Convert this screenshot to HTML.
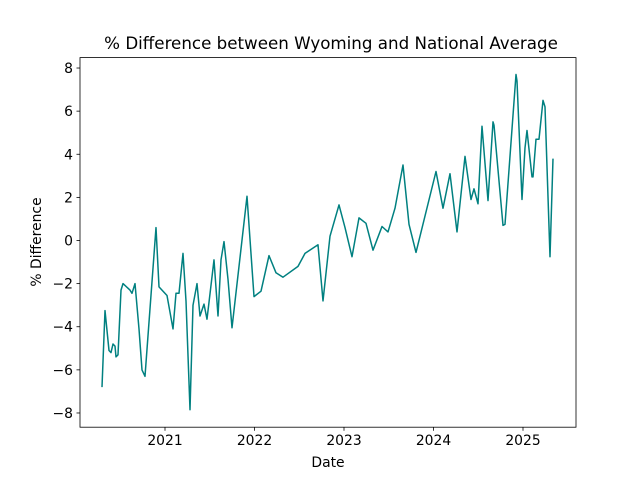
<!DOCTYPE html>
<html><head><meta charset="utf-8"><style>
body{margin:0;background:#fff;font-family:"DejaVu Sans","Liberation Sans",sans-serif}
</style></head><body>
<svg id="chart" width="640" height="480" xmlns="http://www.w3.org/2000/svg" font-family="DejaVu Sans, Liberation Sans, sans-serif"></svg>
<script>
const dates=[2020.296,2020.330,2020.374,2020.397,2020.419,2020.441,2020.453,2020.475,2020.508,2020.531,2020.609,2020.631,2020.665,2020.709,2020.743,2020.777,2020.899,2020.933,2021.022,2021.089,2021.123,2021.156,2021.201,2021.235,2021.279,2021.313,2021.358,2021.391,2021.436,2021.469,2021.547,2021.592,2021.626,2021.659,2021.704,2021.749,2021.916,2021.994,2022.073,2022.162,2022.240,2022.318,2022.486,2022.564,2022.709,2022.765,2022.844,2022.944,2023.011,2023.089,2023.168,2023.246,2023.324,2023.425,2023.492,2023.570,2023.659,2023.726,2023.804,2024.028,2024.106,2024.184,2024.263,2024.352,2024.419,2024.453,2024.497,2024.542,2024.609,2024.665,2024.676,2024.777,2024.799,2024.922,2024.933,2024.989,2025.022,2025.045,2025.101,2025.112,2025.145,2025.179,2025.223,2025.246,2025.302,2025.335];
const values=[-6.8,-3.25,-5.1,-5.2,-4.8,-4.9,-5.4,-5.3,-2.3,-2.0,-2.3,-2.45,-2.0,-4.1,-6.0,-6.3,0.6,-2.15,-2.55,-4.1,-2.45,-2.45,-0.6,-2.8,-7.85,-3.0,-2.0,-3.5,-2.95,-3.65,-0.9,-3.5,-0.9,-0.05,-1.8,-4.05,2.05,-2.6,-2.35,-0.7,-1.5,-1.7,-1.2,-0.6,-0.2,-2.8,0.2,1.65,0.6,-0.75,1.05,0.8,-0.45,0.65,0.4,1.5,3.5,0.75,-0.55,3.2,1.5,3.1,0.4,3.9,1.9,2.4,1.7,5.3,1.85,5.5,5.35,0.7,0.75,7.7,7.4,1.9,4.3,5.1,2.95,2.95,4.7,4.7,6.5,6.2,-0.75,3.8];
const xTicks=[2021,2022,2023,2024,2025];
const yTicks=[-8,-6,-4,-2,0,2,4,6,8];
const NS="http://www.w3.org/2000/svg",svg=document.getElementById('chart');
const L=80,R=576,T=57.6,B=427.2;
const x=v=>165+(v-2021)*89.5;
const y=v=>240.5-v*21.56;
function mk(t,a,txt){const e=document.createElementNS(NS,t);for(const k in a)e.setAttribute(k,a[k]);if(txt!==undefined)e.textContent=txt;svg.appendChild(e);return e;}
const pts=dates.map((d,i)=>x(d).toFixed(1)+','+y(values[i]).toFixed(1)).join(' ');
const line=mk('polyline',{points:pts,fill:'none',stroke:'#008080','stroke-width':1.5,'stroke-linejoin':'round'});


const frame=mk('rect',{x:L,y:T,width:R-L,height:B-T,fill:'none',stroke:'#000','stroke-width':0.8});


xTicks.forEach(t=>{mk('line',{x1:x(t),x2:x(t),y1:B,y2:B+3.5,stroke:'#000','stroke-width':0.8});
const tl=mk('text',{x:x(t),y:B+18,'text-anchor':'middle','font-size':13.9},String(t));

});
yTicks.forEach(t=>{mk('line',{x1:L-3.5,x2:L,y1:y(t),y2:y(t),stroke:'#000','stroke-width':0.8});
const tl=mk('text',{x:L-7,y:y(t)+5,'text-anchor':'end','font-size':13.9},t<0?'\u2212'+Math.abs(t):String(t));

});
const ti=mk('text',{x:331,y:49,'text-anchor':'middle','font-size':16.7},'% Difference between Wyoming and National Average');


const xl=mk('text',{x:328,y:467,'text-anchor':'middle','font-size':13.9},'Date');


const yl=mk('text',{x:41,y:242,'text-anchor':'middle','font-size':13.9,transform:'rotate(-90 41 242)'},'% Difference');


</script>
</body></html>
